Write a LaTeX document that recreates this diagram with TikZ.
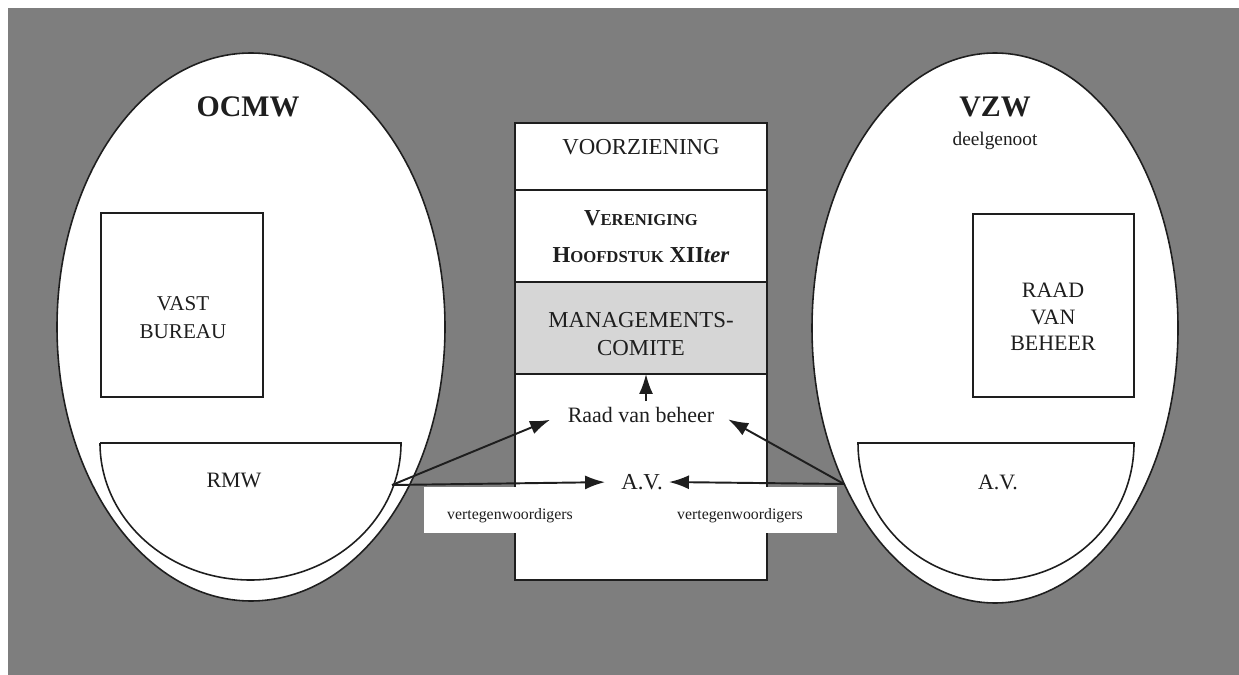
\documentclass[tikz,border=0pt]{standalone}
\usepackage{fontspec}
\setmainfont{Liberation Serif}
\usetikzlibrary{arrows.meta}
\definecolor{bggray}{RGB}{126,126,126}
\definecolor{mgmtgray}{RGB}{214,214,214}
\definecolor{ink}{RGB}{30,30,30}
\newcommand\lowcaps[1]{{\fontsize{9.5}{21}\selectfont #1}}

\begin{document}
\begin{tikzpicture}[x=0.02cm,y=-0.02cm]
  \tikzset{ blob/.style={draw=ink,fill=white,line width=0.9pt},
    lbl/.style={ink,font=\fontsize{12.5}{15}\selectfont,align=center},
    big/.style={ink,font=\fontsize{17}{20}\selectfont\bfseries},
    small/.style={ink,font=\fontsize{9}{11}\selectfont},
    arr/.style={-{Latex[length=4mm,width=2.8mm]},draw=ink,line width=1.1pt},
  }
  \useasboundingbox (0,0) rectangle (1239,675);
  \fill[white] (0,0) rectangle (1239,675);
  \fill[bggray] (8,8) rectangle (1239,675);

  % the two partners
  \draw[blob] (251,327) ellipse [x radius=194, y radius=274];
  \draw[blob] (995,328) ellipse [x radius=183, y radius=275];
  \draw[blob] (100,443) -- (401,443) arc[start angle=0, end angle=180, x radius=150.5, y radius=137] -- cycle;
  \draw[blob] (858,443) -- (1134,443) arc[start angle=0, end angle=180, x radius=138, y radius=137] -- cycle;
  \draw[ink,line width=1.1pt] (101,213) rectangle (263,397);
  \draw[ink,line width=1.1pt] (973,214) rectangle (1134,397);

  % the column in the middle
  \fill[white] (515,123) rectangle (767,580);
  \fill[mgmtgray] (515,282) rectangle (767,374);
  \draw[ink,line width=1.1pt] (515,123) rectangle (767,580);
  \draw[ink,line width=1.1pt] (515,190) -- (767,190);
  \draw[ink,line width=1.1pt] (515,282) -- (767,282);
  \draw[ink,line width=1.1pt] (515,374) -- (767,374);
  \fill[white] (424,487) rectangle (837,533);

  \node[big] (ocmw) at (248,107) {OCMW};
  \node[big] (vzw) at (995,107) {VZW};
  \node[lbl,font=\fontsize{11}{13}\selectfont] (deel) at (995,141) {deelgenoot};
  \node[lbl,font=\fontsize{12}{16}\selectfont] (vast) at (183,318) {VAST\\BUREAU};
  \node[lbl] (rvb) at (1053,317) {RAAD\\VAN\\BEHEER};
  \node[lbl] (rmw) at (234,480) {RMW};
  \node[lbl] (avvzw) at (998,482) {A.V.};

  \node[lbl,font=\fontsize{13}{15}\selectfont] (voorz) at (641,147) {VOORZIENING};
  \node[lbl,font=\fontsize{13}{21}\selectfont\bfseries] (ver) at (641,237)
    {V\lowcaps{ERENIGING}\\H\lowcaps{OOFDSTUK} XII\textit{ter}};
  \node[lbl,font=\fontsize{13}{15.5}\selectfont] (mgmt) at (641,334) {MANAGEMENTS-\\COMITE};
  \node[lbl] (raad) at (641,415) {Raad van beheer};
  \node[lbl,font=\fontsize{13}{15}\selectfont] (av) at (642,482) {A.V.};
  \node[small] (vertl) at (510,516) {vertegenwoordigers};
  \node[small] (vertr) at (740,516) {vertegenwoordigers};

  \coordinate (from-rmw) at (392,485);
  \coordinate (from-av) at (844,484);
  \coordinate (mgmt-bottom) at (646,374);

  % the connection between the bodies
  \draw[arr] (raad.north -| mgmt-bottom) -- (mgmt-bottom);
  \draw[arr,shorten >=0.25cm] (from-rmw) -- (raad.west);
  \draw[arr,shorten >=0.2cm] (from-rmw) -- (av.west);
  \draw[arr,shorten >=0.18cm] (from-av) -- (raad.east);
  \draw[arr] (from-av) -- (av.east);
\end{tikzpicture}
\end{document}
